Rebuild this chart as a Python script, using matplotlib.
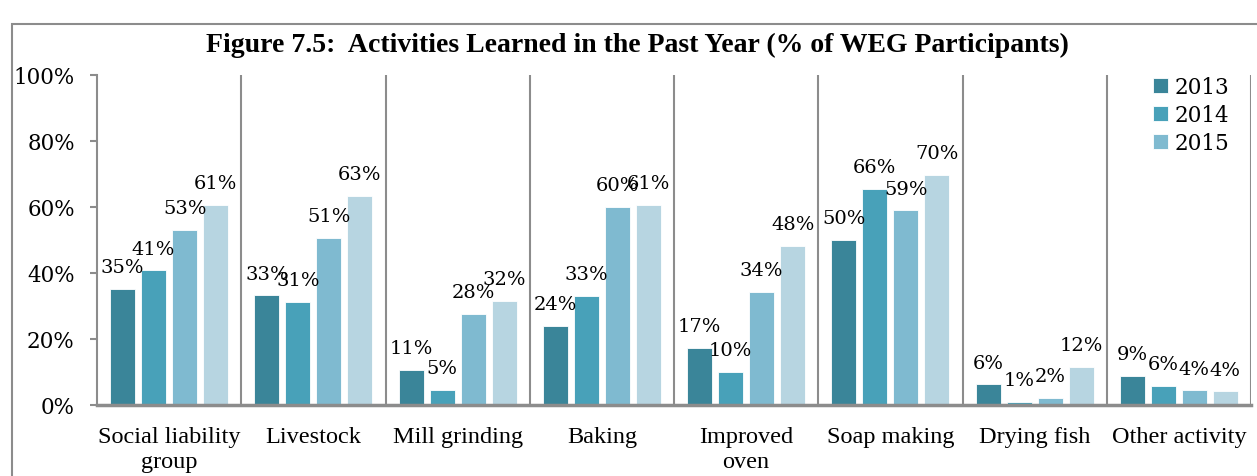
import matplotlib
matplotlib.use("Agg")
import matplotlib.pyplot as plt
from matplotlib.patches import Rectangle
import numpy as np

# activities and values (% of WEG participants)
categories = ["Social liability\ngroup", "Livestock", "Mill grinding", "Baking",
              "Improved\noven", "Soap making", "Drying fish", "Other activity"]
years = ["2013", "2014", "2015", "2016"]
v2013 = [35.2, 33.2, 10.6, 24.0, 17.3, 50.1, 6.3, 8.9]
v2014 = [40.8, 31.2, 4.6, 33.0, 10.1, 65.6, 1.0, 5.9]
v2015 = [53.1, 50.6, 27.6, 60.0, 34.2, 59.0, 2.1, 4.4]
v2016 = [60.7, 63.4, 31.5, 60.6, 48.3, 69.8, 11.6, 4.1]
series = [v2013, v2014, v2015, v2016]
colors = ["#3A8599", "#48A1B9", "#7FBAD0", "#B7D5E1"]

W, H = 1257, 477
fig = plt.figure(figsize=(W / 100, H / 100), dpi=100)

# outer frame of the chart area (runs off the right/bottom edge)
fig.patches.append(Rectangle((12 / W, -0.1), 1.1, (H - 25) / H + 0.1,
                             transform=fig.transFigure, fill=False,
                             edgecolor="#8C8C8C", linewidth=1.5))

ax = fig.add_axes([97 / W, 1 - 406 / H, (1251 - 97) / W, (406 - 76) / H])

x = np.arange(len(categories))
pitch = 0.215
width = 0.174
offsets = (np.arange(len(series)) - 1.5) * pitch

num_font = "DejaVu Serif"
txt_font = "Liberation Serif"

bars = []
for i, vals in enumerate(series):
    b = ax.bar(x + offsets[i], vals, width, color=colors[i], edgecolor="white",
               linewidth=0.6, label=years[i], zorder=3)
    bars.append(b)
    for xi, v in zip(x + offsets[i], vals):
        ax.annotate(f"{v:.0f}%", (xi, v), xytext=(0, 12), textcoords="offset points",
                    ha="center", va="baseline", fontsize=14, family=num_font, zorder=4)

# vertical separators between categories
for s in np.arange(0.5, len(categories), 1.0):
    ax.axvline(s, color="#8C8C8C", linewidth=1.5, zorder=1)

ax.set_xlim(-0.5, len(categories) - 0.5)
ax.set_ylim(0, 100)
ax.set_yticks(range(0, 101, 20))
ax.set_yticklabels([f"{t}%" for t in range(0, 101, 20)], family=num_font, fontsize=15.5)
ax.set_xticks(x)
ax.set_xticklabels(categories, family=txt_font, fontsize=17.5, linespacing=1.25)
ax.tick_params(axis="x", length=0, pad=15)
ax.tick_params(axis="y", length=5, width=1.5, color="#8C8C8C", pad=11)

for side in ["top", "right"]:
    ax.spines[side].set_visible(False)
ax.spines["left"].set_color("#8C8C8C")
ax.spines["left"].set_linewidth(1.5)
ax.spines["bottom"].set_color("#8C8C8C")
ax.spines["bottom"].set_linewidth(2.5)
ax.spines["bottom"].set_zorder(5)

# legend shows only the first three years, as in the reference
leg = fig.legend(handles=bars[:3], labels=years[:3], loc="upper left",
                 bbox_to_anchor=(1153 / W, 1 - 77 / H), frameon=False,
                 prop={"family": num_font, "size": 15.5}, handlelength=0.7,
                 handleheight=0.7, handletextpad=0.3, labelspacing=0.27,
                 borderpad=0, borderaxespad=0)

fig.text(637 / W, 1 - 45 / H,
         "Figure 7.5:  Activities Learned in the Past Year (% of WEG Participants)",
         ha="center", va="center", fontsize=20, fontweight="bold", family=txt_font)

fig.savefig("out.png", dpi=100)
